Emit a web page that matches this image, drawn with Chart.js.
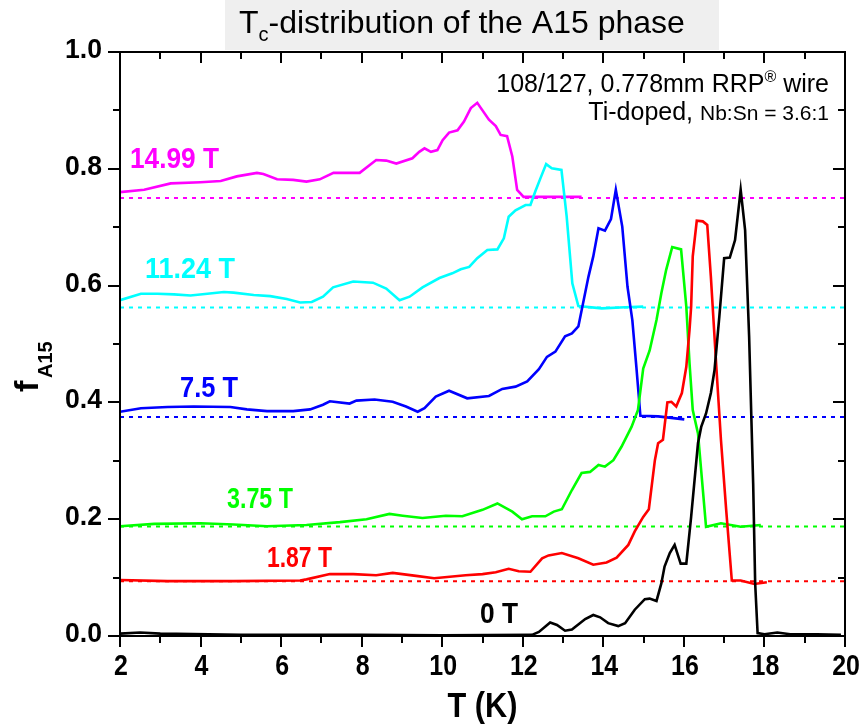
<!DOCTYPE html>
<html>
<head>
<meta charset="utf-8">
<title>Tc-distribution of the A15 phase</title>
<script src="https://cdn.jsdelivr.net/npm/chart.js@4.4.1/dist/chart.umd.min.js"></script>
<style>
  html, body { margin: 0; padding: 0; background: #fff; }
  #chart { display: block; }
</style>
</head>
<body>
<canvas id="chart" width="866" height="727"></canvas>
<script>
// =====================================================================
// --- DATA ---
// =====================================================================
const xMajorTicks = [2, 4, 6, 8, 10, 12, 14, 16, 18, 20];
const xMinorTicks = [3, 5, 7, 9, 11, 13, 15, 17, 19];
const yMajorTicks = [0, 0.2, 0.4, 0.6, 0.8, 1.0];
const yMinorTicks = [0.1, 0.3, 0.5, 0.7, 0.9];
const yTickLabels = ['0.0', '0.2', '0.4', '0.6', '0.8', '1.0'];

const fieldLabels = ['14.99 T', '11.24 T', '7.5 T', '3.75 T', '1.87 T', '0 T'];
// offset baselines of the shifted curves (dotted lines)
const baseLevels = [0.75, 0.5625, 0.375, 0.1875, 0.09375];

// 14.99 T
const t1499 = [2.0, 2.6, 3.26, 4.0, 4.5, 4.9, 5.4, 5.56, 5.9, 6.3, 6.63, 6.96, 7.3, 7.62, 7.95, 8.36, 8.61, 8.86, 9.26, 9.43, 9.56, 9.72, 9.88, 10.01, 10.17, 10.38, 10.54, 10.71, 10.87, 11.16, 11.33, 11.45, 11.61, 11.74, 11.86, 12.02, 12.6, 13.0, 13.46];
const f1499 = [0.760, 0.764, 0.775, 0.777, 0.779, 0.787, 0.793, 0.791, 0.782, 0.781, 0.778, 0.782, 0.793, 0.793, 0.793, 0.815, 0.814, 0.809, 0.818, 0.829, 0.835, 0.829, 0.832, 0.849, 0.862, 0.866, 0.881, 0.904, 0.913, 0.884, 0.873, 0.858, 0.856, 0.821, 0.764, 0.752, 0.752, 0.752, 0.752];

// 11.24 T
const t1124 = [2.0, 2.52, 2.93, 3.34, 3.75, 4.17, 4.58, 4.82, 5.32, 5.73, 6.14, 6.47, 6.76, 7.04, 7.29, 7.79, 8.28, 8.61, 8.94, 9.19, 9.51, 9.93, 10.25, 10.46, 10.67, 10.87, 11.12, 11.37, 11.53, 11.65, 11.82, 12.07, 12.19, 12.31, 12.44, 12.58, 12.72, 12.96, 13.09, 13.23, 13.38, 13.96, 14.54, 14.99];
const f1124 = [0.575, 0.586, 0.586, 0.585, 0.583, 0.586, 0.589, 0.588, 0.584, 0.582, 0.577, 0.571, 0.572, 0.581, 0.597, 0.607, 0.605, 0.595, 0.575, 0.581, 0.597, 0.613, 0.621, 0.628, 0.632, 0.647, 0.661, 0.662, 0.681, 0.718, 0.729, 0.738, 0.738, 0.761, 0.784, 0.808, 0.801, 0.798, 0.718, 0.604, 0.565, 0.561, 0.563, 0.564];

// 7.5 T
const t750 = [2.0, 2.52, 3.18, 3.83, 4.74, 5.15, 5.65, 6.30, 6.72, 7.04, 7.21, 7.70, 7.87, 8.32, 8.77, 9.10, 9.39, 9.56, 9.84, 10.17, 10.62, 11.16, 11.49, 11.82, 12.11, 12.40, 12.60, 12.81, 13.05, 13.22, 13.38, 13.63, 13.75, 13.88, 14.04, 14.19, 14.31, 14.47, 14.60, 14.72, 14.82, 14.92, 15.36, 16.01];
const f750 = [0.384, 0.390, 0.392, 0.393, 0.392, 0.388, 0.385, 0.385, 0.388, 0.396, 0.402, 0.398, 0.403, 0.405, 0.401, 0.393, 0.384, 0.390, 0.410, 0.420, 0.407, 0.411, 0.423, 0.427, 0.436, 0.457, 0.478, 0.487, 0.513, 0.518, 0.530, 0.615, 0.650, 0.698, 0.694, 0.714, 0.764, 0.701, 0.598, 0.541, 0.461, 0.377, 0.376, 0.371];

// 3.75 T
const t375 = [2.0, 2.85, 4.0, 4.82, 5.65, 6.63, 7.46, 8.12, 8.69, 9.02, 9.51, 10.09, 10.50, 11.0, 11.37, 11.74, 11.98, 12.23, 12.56, 12.77, 12.97, 13.22, 13.46, 13.67, 13.88, 14.04, 14.25, 14.45, 14.70, 14.86, 14.99, 15.15, 15.32, 15.44, 15.56, 15.71, 15.93, 16.06, 16.14, 16.22, 16.35, 16.55, 16.92, 17.41, 17.91];
const f375 = [0.188, 0.192, 0.193, 0.191, 0.188, 0.190, 0.195, 0.200, 0.209, 0.206, 0.202, 0.206, 0.205, 0.216, 0.227, 0.213, 0.200, 0.205, 0.205, 0.213, 0.217, 0.250, 0.279, 0.281, 0.293, 0.290, 0.301, 0.324, 0.358, 0.387, 0.458, 0.489, 0.541, 0.587, 0.627, 0.666, 0.662, 0.564, 0.467, 0.387, 0.347, 0.187, 0.193, 0.187, 0.190];

// 1.87 T
const t187 = [2.0, 3.18, 4.82, 6.47, 6.63, 7.21, 7.79, 8.36, 8.77, 9.35, 9.80, 10.58, 11.0, 11.33, 11.65, 11.90, 12.19, 12.48, 12.64, 12.97, 13.38, 13.75, 14.08, 14.33, 14.62, 14.78, 14.99, 15.13, 15.28, 15.36, 15.48, 15.59, 15.69, 15.81, 15.95, 16.06, 16.14, 16.18, 16.22, 16.32, 16.47, 16.58, 16.67, 16.80, 16.92, 17.05, 17.19, 17.41, 17.75, 18.06];
const f187 = [0.096, 0.094, 0.094, 0.095, 0.097, 0.106, 0.106, 0.104, 0.108, 0.103, 0.099, 0.104, 0.106, 0.109, 0.115, 0.111, 0.110, 0.133, 0.138, 0.142, 0.133, 0.122, 0.126, 0.134, 0.156, 0.179, 0.204, 0.217, 0.301, 0.330, 0.336, 0.400, 0.401, 0.393, 0.416, 0.461, 0.524, 0.564, 0.650, 0.711, 0.710, 0.704, 0.615, 0.467, 0.336, 0.216, 0.095, 0.095, 0.089, 0.092];

// 0 T
const t0 = [2.0, 2.5, 3.0, 5.0, 8.0, 10.0, 12.23, 12.40, 12.68, 12.85, 13.05, 13.22, 13.55, 13.75, 13.92, 14.12, 14.37, 14.54, 14.78, 15.03, 15.15, 15.32, 15.44, 15.52, 15.65, 15.77, 15.92, 16.06, 16.18, 16.35, 16.43, 16.55, 16.67, 16.76, 16.88, 17.0, 17.14, 17.27, 17.41, 17.52, 17.62, 17.72, 17.77, 17.83, 18.0, 18.32, 18.64, 19.3, 19.9];
const f0 = [0.004, 0.006, 0.004, 0.002, 0.002, 0.001, 0.002, 0.007, 0.023, 0.019, 0.009, 0.011, 0.029, 0.036, 0.032, 0.022, 0.017, 0.022, 0.045, 0.063, 0.064, 0.060, 0.090, 0.119, 0.142, 0.156, 0.124, 0.124, 0.204, 0.330, 0.358, 0.381, 0.416, 0.455, 0.547, 0.647, 0.648, 0.678, 0.764, 0.695, 0.512, 0.261, 0.090, 0.005, 0.003, 0.006, 0.003, 0.003, 0.002];

// =====================================================================
// --- STYLE ---
// =====================================================================
const FONT = '"Liberation Sans", Arial, sans-serif';
const colors = ['#ff00ff', '#00ffff', '#0000ff', '#00ff00', '#ff0000', '#000000'];

// label placement (left x, baseline, target width) in pixels
const labelBoxes = [
  [130, 168, 89], [145, 278, 90], [180, 397, 58],
  [227, 508, 66], [267, 567, 65], [480, 623, 38]
];

const toPoints = (xs, ys) => xs.map((v, i) => ({ x: v, y: ys[i] }));

// text squeezed/stretched to a given width
function drawFitted(ctx, text, x, y, font, width, align) {
  ctx.save();
  ctx.font = font;
  const w = ctx.measureText(text).width;
  const sx = width ? width / w : 1;
  ctx.translate(x, y);
  ctx.scale(sx, 1);
  ctx.textAlign = align || 'left';
  ctx.fillText(text, 0, 0);
  ctx.restore();
}

function drawScaled(ctx, text, x, y, font, sx, align, baseline) {
  ctx.save();
  ctx.font = font;
  ctx.translate(x, y);
  ctx.scale(sx, 1);
  ctx.textAlign = align;
  ctx.textBaseline = baseline || 'alphabetic';
  ctx.fillText(text, 0, 0);
  ctx.restore();
}

// =====================================================================
// --- FRAME, TICKS AND TEXT PLUGIN ---
// =====================================================================
const decorPlugin = {
  id: 'decor',
  beforeDraw(chart) {
    const { ctx } = chart;
    ctx.save();
    ctx.fillStyle = '#ffffff';
    ctx.fillRect(0, 0, chart.width, chart.height);
    // title box
    ctx.fillStyle = '#efefef';
    ctx.fillRect(225, 0, 494, 50);
    ctx.fillStyle = '#000';
    ctx.font = '32px ' + FONT;
    ctx.textBaseline = 'alphabetic';
    let tx = 239;
    ctx.fillText('T', tx, 33);
    tx += ctx.measureText('T').width;
    ctx.font = '20px ' + FONT;
    ctx.fillText('c', tx, 41);
    tx += ctx.measureText('c').width;
    ctx.font = '32px ' + FONT;
    ctx.fillText('-distribution of the A15 phase', tx, 33);
    ctx.restore();
  },
  afterDraw(chart) {
    const { ctx, chartArea: a, scales: { x, y } } = chart;
    ctx.save();
    ctx.strokeStyle = '#000';
    ctx.lineWidth = 2;
    ctx.strokeRect(a.left, a.top, a.right - a.left, a.bottom - a.top);

    ctx.beginPath();
    const tickX = (v, len) => {
      const px = Math.round(x.getPixelForValue(v));
      ctx.moveTo(px, a.bottom); ctx.lineTo(px, a.bottom + len);   // outward
      ctx.moveTo(px, a.top); ctx.lineTo(px, a.top + len);         // inward
    };
    const tickY = (v, len) => {
      const py = Math.round(y.getPixelForValue(v));
      ctx.moveTo(a.left, py); ctx.lineTo(a.left - len, py);       // outward
      ctx.moveTo(a.right, py); ctx.lineTo(a.right - len, py);     // inward
    };
    xMajorTicks.forEach(v => tickX(v, 11));
    xMinorTicks.forEach(v => tickX(v, 7));
    yMajorTicks.forEach(v => tickY(v, 12));
    yMinorTicks.forEach(v => tickY(v, 7));
    ctx.stroke();

    // tick labels
    ctx.fillStyle = '#000';
    xMajorTicks.forEach(v => {
      drawScaled(ctx, String(v), x.getPixelForValue(v) + 1, a.bottom + 39, 'bold 29px ' + FONT, 0.86, 'center');
    });
    yMajorTicks.forEach((v, i) => {
      drawScaled(ctx, yTickLabels[i], a.left - 18, y.getPixelForValue(v) + 6, 'bold 28px ' + FONT, 0.95, 'right');
    });

    // axis titles
    drawFitted(ctx, 'T (K)', (a.left + a.right) / 2, 717, 'bold 35px ' + FONT, 70, 'center');
    ctx.save();
    ctx.translate(38, 392);
    ctx.rotate(-Math.PI / 2);
    ctx.font = 'bold 34px ' + FONT;
    ctx.fillText('f', 0, 0);
    ctx.font = 'bold 20px ' + FONT;
    ctx.fillText('A15', 14, 14);
    ctx.restore();

    // field labels
    fieldLabels.forEach((txt, i) => {
      const [lx, ly, lw] = labelBoxes[i];
      ctx.fillStyle = colors[i];
      drawFitted(ctx, txt, lx, ly, 'bold 30px ' + FONT, lw, 'left');
    });

    // sample annotation (right aligned)
    ctx.fillStyle = '#000';
    ctx.textAlign = 'right';
    let rx = 829;
    ctx.font = '25px ' + FONT;
    ctx.fillText(' wire', rx, 92);
    rx -= ctx.measureText(' wire').width;
    ctx.font = '16px ' + FONT;
    ctx.fillText('\u00AE', rx, 82);
    rx -= ctx.measureText('\u00AE').width;
    ctx.font = '25px ' + FONT;
    ctx.fillText('108/127, 0.778mm RRP', rx, 92);

    rx = 829;
    ctx.font = '21px ' + FONT;
    ctx.fillText('Nb:Sn = 3.6:1', rx, 120);
    rx -= ctx.measureText('Nb:Sn = 3.6:1').width;
    ctx.font = '25px ' + FONT;
    ctx.fillText('Ti-doped, ', rx, 120);
    ctx.restore();
  }
};

// =====================================================================
// --- CHART ---
// =====================================================================
const curveData = [
  toPoints(t1499, f1499), toPoints(t1124, f1124), toPoints(t750, f750),
  toPoints(t375, f375), toPoints(t187, f187), toPoints(t0, f0)
];

// solid curves first so they are painted on top of the dotted baselines
const solidSets = curveData.slice().reverse().map((pts, k) => {
  const i = curveData.length - 1 - k;
  return {
    label: fieldLabels[i],
    data: pts,
    borderColor: colors[i],
    borderWidth: 2.6,
    pointRadius: 0,
    showLine: true,
    tension: 0,
    fill: false
  };
});

const dashedSets = baseLevels.map((lvl, i) => ({
  label: fieldLabels[i] + ' base',
  data: [{ x: xMajorTicks[0], y: lvl }, { x: xMajorTicks[xMajorTicks.length - 1], y: lvl }],
  borderColor: colors[i],
  borderWidth: 1.8,
  borderDash: [4, 5],
  pointRadius: 0,
  showLine: true,
  fill: false
}));

new Chart(document.getElementById('chart').getContext('2d'), {
  type: 'scatter',
  data: { datasets: solidSets.concat(dashedSets) },
  options: {
    responsive: false,
    animation: false,
    devicePixelRatio: 1,
    layout: { padding: { top: 52, right: 21, left: 0, bottom: 0 } },
    plugins: { legend: { display: false }, tooltip: { enabled: false } },
    scales: {
      x: {
        type: 'linear', min: 2, max: 20,
        ticks: { display: false, stepSize: 2 },
        grid: { display: false },
        border: { display: false },
        afterFit: s => { s.height = 91; }
      },
      y: {
        type: 'linear', min: 0, max: 1,
        ticks: { display: false, stepSize: 0.2 },
        grid: { display: false },
        border: { display: false },
        afterFit: s => { s.width = 120; }
      }
    }
  },
  plugins: [decorPlugin]
});
</script>
</body>
</html>
